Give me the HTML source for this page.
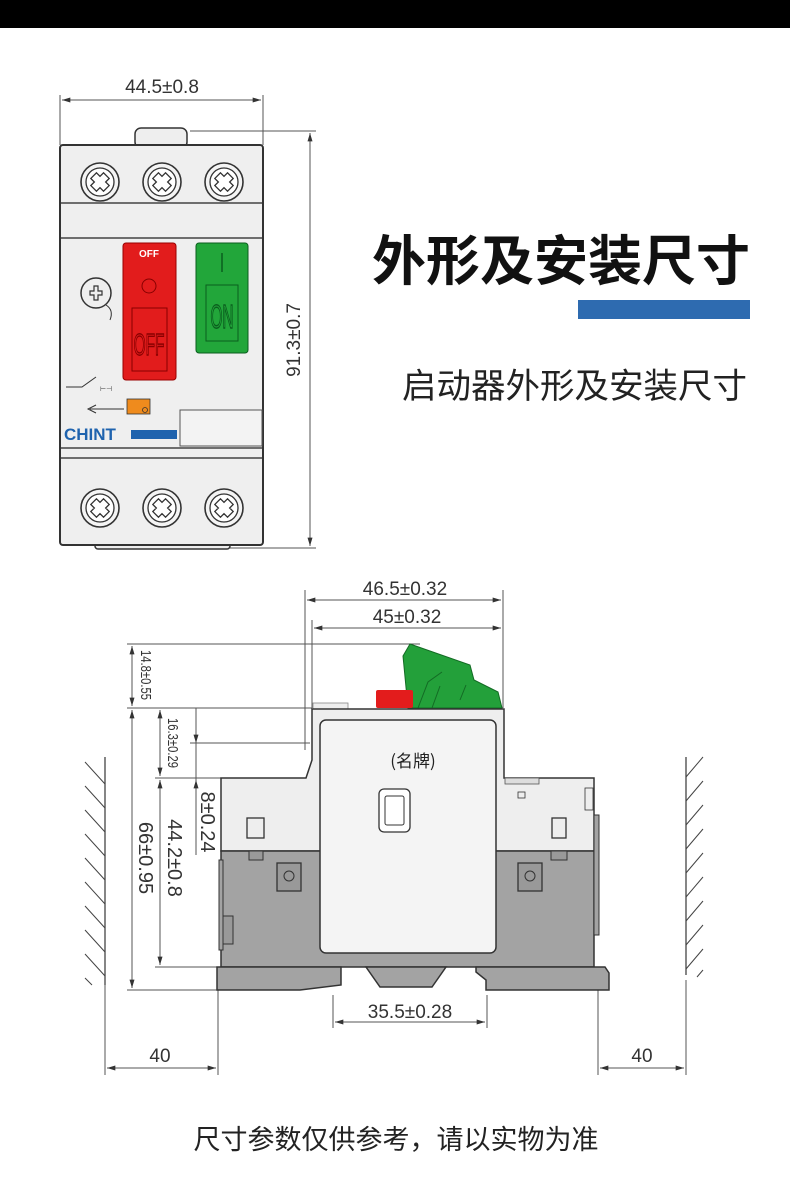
<!DOCTYPE html>
<html><head><meta charset="utf-8"><style>
html,body{margin:0;padding:0;background:#fff}
body{width:790px;height:1196px;position:relative;overflow:hidden;font-family:"Liberation Sans","Noto Sans CJK SC",sans-serif}
svg{position:absolute;left:0;top:0}
</style></head><body>
<svg width="790" height="1196" viewBox="0 0 790 1196" xmlns="http://www.w3.org/2000/svg">
<defs>
<marker id="a" viewBox="0 0 10 6" refX="10" refY="3" markerWidth="12" markerHeight="5" orient="auto-start-reverse" markerUnits="userSpaceOnUse"><path d="M0,0 L10,3 L0,6 Z" fill="#333"/></marker>
<g id="scr"><circle r="19" fill="#f4f4f4" stroke="#333" stroke-width="1.6"/><circle r="14" fill="#fff" stroke="#333" stroke-width="1.3"/><path d="M-9,-4 L-4,-4 L-4,-9 L4,-9 L4,-4 L9,-4 L9,4 L4,4 L4,9 L-4,9 L-4,4 L-9,4 Z" transform="rotate(45)" fill="#fff" stroke="#333" stroke-width="1.3"/></g>
</defs>
<rect x="0" y="0" width="790" height="28" fill="#000"/>

<!-- top device -->
<g stroke="#555" stroke-width="1" fill="none">
<line x1="60" y1="95" x2="60" y2="145"/><line x1="263" y1="95" x2="263" y2="145"/>
<line x1="62" y1="100" x2="261" y2="100" marker-start="url(#a)" marker-end="url(#a)"/>
<line x1="190" y1="131" x2="316" y2="131"/><line x1="230" y1="548" x2="316" y2="548"/>
<line x1="310" y1="133" x2="310" y2="546" marker-start="url(#a)" marker-end="url(#a)"/>
</g>
<text x="162" y="93" font-size="19" text-anchor="middle" fill="#333">44.5±0.8</text>
<text transform="translate(300,340) rotate(-90)" font-size="19" text-anchor="middle" fill="#333">91.3±0.7</text>
<rect x="135" y="128" width="52" height="20" rx="6" fill="#eee" stroke="#333" stroke-width="1.5"/>
<rect x="95" y="540" width="135" height="9" rx="3" fill="#eee" stroke="#333" stroke-width="1.5"/>
<rect x="60" y="145" width="203" height="400" rx="3" fill="#efefef" stroke="#333" stroke-width="2"/>
<line x1="61" y1="203" x2="262" y2="203" stroke="#444" stroke-width="1.5"/>
<line x1="61" y1="238" x2="262" y2="238" stroke="#444" stroke-width="1.5"/>
<line x1="61" y1="448" x2="262" y2="448" stroke="#444" stroke-width="1.5"/>
<line x1="61" y1="458" x2="262" y2="458" stroke="#444" stroke-width="1.5"/>
<use href="#scr" x="100" y="182"/><use href="#scr" x="162" y="182"/><use href="#scr" x="224" y="182"/>
<use href="#scr" x="100" y="508"/><use href="#scr" x="162" y="508"/><use href="#scr" x="224" y="508"/>
<rect x="123" y="243" width="53" height="137" rx="3" fill="#e21c1c" stroke="#900" stroke-width="1"/>
<text x="149" y="257" font-size="10" font-weight="bold" text-anchor="middle" fill="#fff">OFF</text>
<circle cx="149" cy="286" r="7" fill="none" stroke="#800" stroke-width="1"/>
<rect x="132" y="308" width="35" height="63" fill="none" stroke="#800" stroke-width="1"/>
<text x="149" y="355" font-size="22" text-anchor="middle" fill="none" stroke="#800" stroke-width="1" transform="translate(149,355) scale(0.7,1.4) translate(-149,-355)">OFF</text>
<rect x="196" y="243" width="52" height="110" rx="3" fill="#22a63a" stroke="#0b5e1e" stroke-width="1"/>
<line x1="222" y1="253" x2="222" y2="272" stroke="#0b5e1e" stroke-width="1.5"/>
<rect x="206" y="285" width="32" height="56" fill="none" stroke="#0b5e1e" stroke-width="1"/>
<text x="222" y="328" font-size="22" text-anchor="middle" fill="none" stroke="#0b5e1e" stroke-width="1" transform="translate(222,328) scale(0.7,1.5) translate(-222,-328)">ON</text>
<circle cx="96" cy="293" r="15" fill="none" stroke="#333" stroke-width="1.5"/>
<path d="M90,291 h4 v-5 h4 v5 h4 v4 h-4 v5 h-4 v-5 h-4 Z" fill="none" stroke="#333" stroke-width="1.2"/>
<path d="M106,305 Q114,310 110,320" fill="none" stroke="#333"/>
<path d="M66,387 L82,387 L96,377" fill="none" stroke="#333"/>
<text x="100" y="391" font-size="7" fill="#333">⊢⊣</text>
<path d="M90,409 L124,409" stroke="#333"/><path d="M96,405 L88,409 L96,413" fill="none" stroke="#333"/>
<rect x="127" y="399" width="23" height="15" fill="#ef8b1d" stroke="#333" stroke-width="0.8"/>
<circle cx="145" cy="410" r="2.5" fill="none" stroke="#333" stroke-width="0.8"/>
<text x="64" y="440" font-size="17" font-weight="bold" fill="#1f63ae">CHINT</text>
<rect x="131" y="430" width="46" height="9" fill="#1f63ae"/>
<rect x="180" y="410" width="82" height="36" fill="#f3f3f3" stroke="#555" stroke-width="1"/>

<!-- title -->
<text x="372" y="280" font-size="54" font-weight="bold" fill="#111" font-family="'Noto Sans CJK SC',sans-serif">外形及安装尺寸</text>
<rect x="578" y="300" width="172" height="19" fill="#2e6bb0"/>
<text x="402" y="398" font-size="34.5" fill="#222" font-family="'Noto Sans CJK SC',sans-serif">启动器外形及安装尺寸</text>

<!-- side view dims -->
<g stroke="#555" stroke-width="1" fill="none">
<line x1="305" y1="590" x2="305" y2="750"/><line x1="312" y1="620" x2="312" y2="708"/><line x1="503" y1="590" x2="503" y2="708"/>
<line x1="307" y1="600" x2="501" y2="600" marker-start="url(#a)" marker-end="url(#a)"/>
<line x1="314" y1="628" x2="501" y2="628" marker-start="url(#a)" marker-end="url(#a)"/>
<line x1="127" y1="644" x2="420" y2="644"/>
<line x1="127" y1="708" x2="312" y2="708"/>
<line x1="190" y1="743" x2="310" y2="743"/>
<line x1="155" y1="778" x2="222" y2="778"/>
<line x1="155" y1="967" x2="222" y2="967"/>
<line x1="127" y1="990" x2="260" y2="990"/>
<line x1="132" y1="646" x2="132" y2="706" marker-start="url(#a)" marker-end="url(#a)"/>
<line x1="132" y1="710" x2="132" y2="988" marker-start="url(#a)" marker-end="url(#a)"/>
<line x1="160" y1="710" x2="160" y2="776" marker-start="url(#a)" marker-end="url(#a)"/>
<line x1="160" y1="780" x2="160" y2="965" marker-start="url(#a)" marker-end="url(#a)"/>
<line x1="196" y1="708" x2="196" y2="855"/>
<path d="M196,730 L196,743" marker-end="url(#a)"/><path d="M196,795 L196,780" marker-end="url(#a)"/>
<line x1="333" y1="995" x2="333" y2="1028"/><line x1="487" y1="995" x2="487" y2="1028"/>
<line x1="335" y1="1022" x2="485" y2="1022" marker-start="url(#a)" marker-end="url(#a)"/>
<line x1="218" y1="990" x2="218" y2="1075"/><line x1="598" y1="990" x2="598" y2="1075"/>
<line x1="105" y1="980" x2="105" y2="1075"/><line x1="686" y1="980" x2="686" y2="1075"/>
<line x1="107" y1="1068" x2="216" y2="1068" marker-start="url(#a)" marker-end="url(#a)"/>
<line x1="600" y1="1068" x2="684" y2="1068" marker-start="url(#a)" marker-end="url(#a)"/>
</g>
<g stroke="#444" stroke-width="1.3">
<line x1="105" y1="757" x2="105" y2="985"/><line x1="686" y1="757" x2="686" y2="975"/>
<path d="M85,762 L105,784 M85,786 L105,808 M85,810 L105,832 M85,834 L105,856 M85,858 L105,880 M85,882 L105,904 M85,906 L105,928 M85,930 L105,952 M85,954 L105,976 M85,978 L92,985" fill="none" stroke-width="1"/>
<path d="M686,777 L703,757 M686,801 L703,781 M686,825 L703,805 M686,849 L703,829 M686,873 L703,853 M686,897 L703,877 M686,921 L703,901 M686,945 L703,925 M686,969 L703,949 M697,977 L703,970" fill="none" stroke-width="1"/>
</g>
<text x="405" y="595" font-size="19" text-anchor="middle" fill="#333">46.5±0.32</text>
<text x="407" y="623" font-size="19" text-anchor="middle" fill="#333">45±0.32</text>
<text x="410" y="1018" font-size="19" text-anchor="middle" fill="#333">35.5±0.28</text>
<text x="160" y="1062" font-size="19" text-anchor="middle" fill="#333">40</text>
<text x="642" y="1062" font-size="19" text-anchor="middle" fill="#333">40</text>
<text transform="translate(141,675) rotate(90) scale(0.75,1)" font-size="15" text-anchor="middle" fill="#333">14.8±0.55</text>
<text transform="translate(168,743) rotate(90) scale(0.75,1)" font-size="15" text-anchor="middle" fill="#333">16.3±0.29</text>
<text transform="translate(201,822) rotate(90)" font-size="20" text-anchor="middle" fill="#333">8±0.24</text>
<text transform="translate(168,858) rotate(90)" font-size="20" text-anchor="middle" fill="#333">44.2±0.8</text>
<text transform="translate(139,858) rotate(90)" font-size="20" text-anchor="middle" fill="#333">66±0.95</text>

<!-- side body -->
<path d="M403,656 L410,644 L470,665 L474,680 L498,692 L502,708 L408,708 Z" fill="#23a03a" stroke="#136b24" stroke-width="1"/>
<path d="M418,708 L428,682 L442,672 M432,708 L440,686 M460,700 L466,685" fill="none" stroke="#136b24" stroke-width="1"/>
<rect x="376" y="690" width="37" height="18" rx="2" fill="#e31c1c"/>
<rect x="313" y="703" width="35" height="6" fill="#eee" stroke="#888" stroke-width="0.8"/>
<path d="M221,778 L306,778 L312,760 L312,709 L504,709 L504,778 L594,778 L594,851 L221,851 Z" fill="#eeeeee" stroke="#333" stroke-width="1.5"/>
<path d="M221,851 L594,851 L594,967 L221,967 Z" fill="#a3a3a3" stroke="#333" stroke-width="1.5"/>
<path d="M217,967 L341,967 L341,985 L300,990 L217,990 Z" fill="#a3a3a3" stroke="#333" stroke-width="1.5"/>
<path d="M366,967 L446,967 L432,987 L380,987 Z" fill="#a3a3a3" stroke="#333" stroke-width="1.5"/>
<path d="M476,967 L605,967 L609,973 L609,990 L486,990 L486,980 L476,972 Z" fill="#a3a3a3" stroke="#333" stroke-width="1.5"/>
<rect x="594" y="815" width="5" height="120" fill="#a3a3a3" stroke="#333"/>
<rect x="219" y="860" width="4" height="90" fill="#a3a3a3" stroke="#333"/>
<rect x="223" y="916" width="10" height="28" fill="#999" stroke="#333"/>
<rect x="320" y="720" width="176" height="233" rx="6" fill="#f4f4f4" stroke="#333" stroke-width="1.5"/>
<text x="413" y="767" font-size="17" text-anchor="middle" fill="#222" font-family="'Noto Sans CJK SC',sans-serif">(名牌)</text>
<rect x="379" y="789" width="31" height="43" rx="5" fill="#fff" stroke="#333" stroke-width="1.3"/>
<rect x="385" y="796" width="19" height="29" rx="2" fill="none" stroke="#333"/>
<rect x="247" y="818" width="17" height="20" fill="#eee" stroke="#333" stroke-width="1.3"/>
<rect x="552" y="818" width="14" height="20" fill="#eee" stroke="#333" stroke-width="1.3"/>
<rect x="249" y="851" width="14" height="9" fill="#999" stroke="#333"/>
<rect x="551" y="851" width="16" height="9" fill="#999" stroke="#333"/>
<rect x="277" y="863" width="24" height="28" fill="#999" stroke="#333" stroke-width="1.3"/><circle cx="289" cy="876" r="5" fill="none" stroke="#333"/>
<rect x="518" y="863" width="24" height="28" fill="#999" stroke="#333" stroke-width="1.3"/><circle cx="530" cy="876" r="5" fill="none" stroke="#333"/>
<rect x="505" y="778" width="34" height="6" fill="#ddd" stroke="#555" stroke-width="0.8"/>
<rect x="518" y="792" width="7" height="6" fill="none" stroke="#333" stroke-width="0.8"/>
<rect x="585" y="788" width="8" height="22" fill="#eee" stroke="#333" stroke-width="0.8"/>

<text x="396" y="1149" font-size="27" text-anchor="middle" fill="#222" font-family="'Noto Sans CJK SC',sans-serif">尺寸参数仅供参考，请以实物为准</text>
</svg>
</body></html>
